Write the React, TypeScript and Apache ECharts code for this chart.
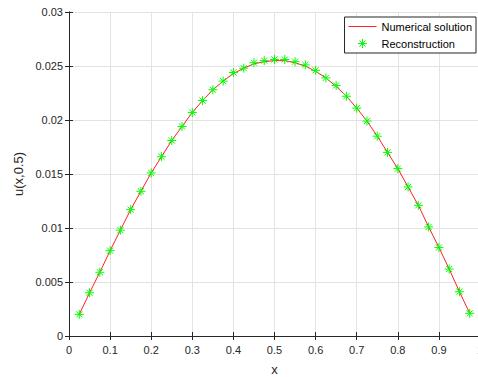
import React, { useEffect, useRef } from "react";
import * as echarts from "echarts";

const xValues = [
  0.025, 0.05, 0.075, 0.1, 0.125, 0.15, 0.175, 0.2, 0.225, 0.25, 0.275, 0.3, 0.325,
  0.35, 0.375, 0.4, 0.425, 0.45, 0.475, 0.5, 0.525, 0.55, 0.575, 0.6, 0.625, 0.65,
  0.675, 0.7, 0.725, 0.75, 0.775, 0.8, 0.825, 0.85, 0.875, 0.9, 0.925, 0.95, 0.975,
];
const numericalValues = [
  0.002, 0.004, 0.0059, 0.0079, 0.0098, 0.0117, 0.0134, 0.0151, 0.0166, 0.0181,
  0.0194, 0.0207, 0.0218, 0.0228, 0.0236, 0.0243, 0.0248, 0.0252, 0.0254, 0.0255,
  0.0255, 0.0253, 0.025, 0.0245, 0.0239, 0.0231, 0.0222, 0.0211, 0.0199, 0.0185,
  0.017, 0.0155, 0.0138, 0.0121, 0.0101, 0.0082, 0.0062, 0.0041, 0.0021,
];
const reconstructionValues = [
  0.002, 0.004, 0.0059, 0.0079, 0.0098, 0.0117, 0.0134, 0.0151, 0.0166, 0.0181,
  0.0194, 0.0207, 0.0218, 0.0228, 0.0236, 0.0244, 0.0248, 0.0253, 0.0255, 0.0256,
  0.0256, 0.0254, 0.0251, 0.0246, 0.0239, 0.0232, 0.0222, 0.0211, 0.0199, 0.0185,
  0.017, 0.0155, 0.0138, 0.0121, 0.0101, 0.0082, 0.0062, 0.0041, 0.0021,
];
const seriesNames = ["Numerical solution", "Reconstruction"];
const xAxisName = "x";
const yAxisName = "u(x,0.5)";

const FONT = "Liberation Sans, Arial, Helvetica, sans-serif";
const AXIS_COLOR = "#262626";
const GRID_COLOR = "#e3e3e3";
const STAR =
  "path://M5,0L5,10M0,5L10,5M1.6,1.6L8.4,8.4M1.6,8.4L8.4,1.6";
const LINE_ICON = "path://M0,0L28,0L28,1L0,1Z";

export default function App() {
  const ref = useRef<HTMLDivElement>(null);
  useEffect(() => {
    if (!ref.current) return;
    const chart = echarts.init(ref.current, undefined, { renderer: "svg" });
    const labelStyle = { color: AXIS_COLOR, fontFamily: FONT, fontSize: 11 };
    const baseX = {
      type: "value" as const,
      min: 0,
      max: 1,
      interval: 0.1,
      axisLine: { show: true, lineStyle: { color: AXIS_COLOR, width: 1 } },
      axisTick: { show: true, inside: true, length: 4, lineStyle: { color: AXIS_COLOR } },
    };
    const baseY = {
      type: "value" as const,
      min: 0,
      max: 0.03,
      interval: 0.005,
      axisLine: { show: true, lineStyle: { color: AXIS_COLOR, width: 1 } },
      axisTick: { show: true, inside: true, length: 4, lineStyle: { color: AXIS_COLOR } },
    };
    chart.setOption({
      animation: false,
      backgroundColor: "#ffffff",
      grid: {
        left: 69,
        top: 12,
        bottom: 41,
        right: -2,
        containLabel: false,
        outerBoundsMode: "none",
      },
      xAxis: [
        {
          ...baseX,
          position: "bottom",
          name: xAxisName,
          nameLocation: "middle",
          nameGap: 27,
          nameTextStyle: { color: AXIS_COLOR, fontFamily: FONT, fontSize: 13 },
          axisLabel: { ...labelStyle, margin: 8 },
          splitLine: { show: true, lineStyle: { color: GRID_COLOR, width: 1 } },
        },
        {
          ...baseX,
          position: "top",
          axisLabel: { show: false },
          splitLine: { show: false },
        },
      ],
      yAxis: [
        {
          ...baseY,
          position: "left",
          name: yAxisName,
          nameLocation: "middle",
          nameGap: 36,
          nameTextStyle: { color: AXIS_COLOR, fontFamily: FONT, fontSize: 13 },
          axisLabel: { ...labelStyle, margin: 6 },
          splitLine: { show: true, lineStyle: { color: GRID_COLOR, width: 1 } },
        },
        {
          ...baseY,
          position: "right",
          axisLabel: { show: false },
          splitLine: { show: false },
        },
      ],
      legend: {
        orient: "vertical",
        right: 2,
        top: 17,
        backgroundColor: "#ffffff",
        borderColor: AXIS_COLOR,
        borderWidth: 1,
        borderRadius: 0,
        padding: [3, 4, 3, 4],
        itemGap: 4,
        itemWidth: 28,
        itemHeight: 9,
        itemTextGap: 3,
        symbolKeepAspect: true,
        textStyle: { color: "#000000", fontFamily: FONT, fontSize: 11, lineHeight: 13 },
        data: [
          {
            name: seriesNames[0],
            icon: LINE_ICON,
            itemStyle: { color: "#ff2020", borderWidth: 0 },
          },
          {
            name: seriesNames[1],
            icon: STAR,
            itemStyle: { color: "#00ff00", borderColor: "#00ff00", borderWidth: 1 },
          },
        ],
      },
      series: [
        {
          name: seriesNames[0],
          type: "line",
          data: xValues.map((x, i) => [x, numericalValues[i]]),
          symbol: "none",
          lineStyle: { color: "#ff2020", width: 1 },
          itemStyle: { color: "#ff2020" },
          z: 2,
        },
        {
          name: seriesNames[1],
          type: "scatter",
          data: xValues.map((x, i) => [x, reconstructionValues[i]]),
          symbol: STAR,
          symbolSize: 9,
          symbolKeepAspect: true,
          itemStyle: { color: "#00ff00", borderColor: "#00ff00", borderWidth: 1, opacity: 1 },
          z: 3,
        },
      ],
    });
    return () => chart.dispose();
  }, []);
  return (
    <div
      ref={ref}
      style={{ position: "fixed", left: 0, top: 0, width: 478, height: 377 }}
    />
  );
}
